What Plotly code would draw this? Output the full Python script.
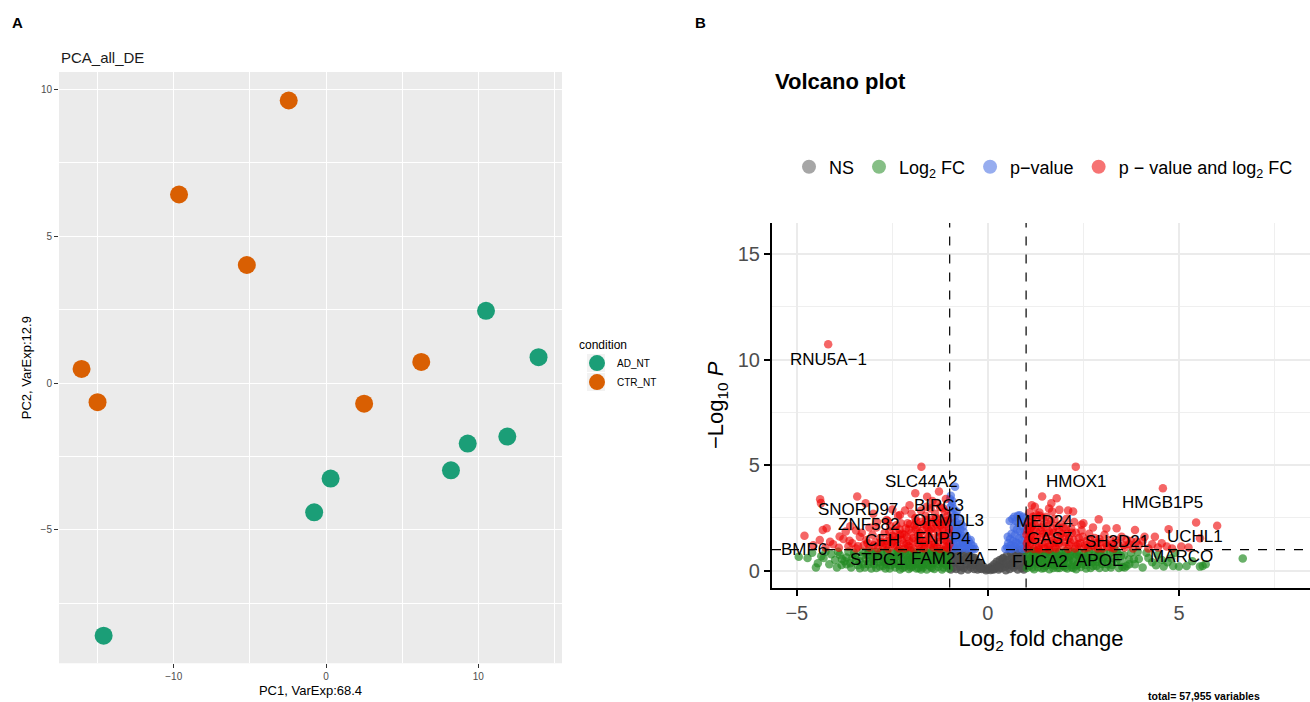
import plotly.graph_objects as go

# ---------------- Panel A data (PCA) ----------------
pca_pc1_ad = [10.5, 13.95, 11.9, 9.3, 8.2, 0.3, -0.78, -14.6]
pca_pc2_ad = [2.46, 0.88, -1.82, -2.06, -2.97, -3.25, -4.4, -8.6]
pca_pc1_ctr = [-2.45, -9.65, -5.2, -16.05, -15.0, 2.5, 6.25]
pca_pc2_ctr = [9.62, 6.42, 4.02, 0.48, -0.65, -0.7, 0.72]

# ---------------- Panel B data (volcano) ----------------
# NS (grey)
ns_fc = [-0.98, -0.95, -0.96, -0.97, -0.9, -0.88, -0.9, -0.85, -0.82, -0.8, -0.83, -0.75, -0.74, -0.72, -0.7,
         -0.66, -0.65, -0.63, -0.58, -0.57, -0.55, -0.52, -0.48, -0.46, -0.44, -0.4, -0.38, -0.36, -0.32, -0.3,
         -0.27, -0.24, -0.22, -0.18, -0.16, -0.12, -0.08, -0.05, 0.0, 0.04, 0.07, 0.1, 0.13, 0.17, 0.2, 0.23,
         0.25, 0.28, 0.31, 0.33, 0.36, 0.4, 0.42, 0.45, 0.47, 0.5, 0.52, 0.55, 0.57, 0.6, 0.62, 0.65, 0.67, 0.7,
         0.72, 0.74, 0.76, 0.78, 0.8, 0.82, 0.84, 0.86, 0.88, 0.91, 0.93, 0.95, 0.97, 0.98, -0.93, -0.78, -0.61,
         -0.5, -0.42, -0.34, -0.2, 0.15, 0.29, 0.38, 0.49, 0.63, 0.69, 0.85, 0.94]
ns_p = [0.95, 0.6, 0.3, 0.05, 0.85, 0.45, 0.15, 0.98, 0.7, 0.35, 0.08, 0.9, 0.55, 0.2, 0.02,
        0.8, 0.45, 0.12, 0.88, 0.6, 0.3, 0.05, 0.7, 0.4, 0.15, 0.62, 0.35, 0.08, 0.5, 0.25,
        0.05, 0.38, 0.18, 0.3, 0.08, 0.2, 0.1, 0.02, 0.06, 0.12, 0.03, 0.2, 0.08, 0.3, 0.12, 0.42,
        0.22, 0.05, 0.5, 0.3, 0.12, 0.6, 0.38, 0.18, 0.02, 0.72, 0.5, 0.28, 0.08, 0.85, 0.6, 0.38, 0.15, 0.95,
        0.72, 0.48, 0.25, 0.05, 0.98, 0.82, 0.58, 0.35, 0.12, 0.9, 0.66, 0.42, 0.2, 0.96, 0.75, 0.5, 0.55,
        0.45, 0.28, 0.6, 0.1, 0.05, 0.15, 0.55, 0.35, 0.25, 0.5, 0.75, 0.05]

# Log2 FC only (green)
fc_fc = [-4.95, -4.72, -4.6, -4.36, -4.45, -4.1, -3.83, -3.35, -4.0, -3.95, -4.25, -3.7, -3.6, -3.5, -3.45, -3.25,
         -3.15, -3.05,
         -1.02, -1.05, -1.03, -1.1, -1.12, -1.15, -1.2, -1.22, -1.25, -1.3, -1.32, -1.35, -1.4, -1.43, -1.46, -1.5,
         -1.53, -1.56, -1.6, -1.63, -1.66, -1.7, -1.73, -1.76, -1.8, -1.83, -1.87, -1.9, -1.93, -1.97, -2.0, -2.03,
         -2.07, -2.1, -2.14, -2.18, -2.22, -2.26, -2.3, -2.34, -2.38, -2.42, -2.46, -2.5, -2.55, -2.6, -2.64, -2.68,
         -2.73, -2.78, -2.83, -2.88, -2.93, -2.98, -3.02, -3.08, -3.12, -3.2, -3.3, -3.4, -3.55, -3.65, -3.75, -3.88,
         -1.08, -1.18, -1.28, -1.38, -1.48, -1.58, -1.68, -1.78, -1.88, -1.98, -2.08, -2.2, -2.32, -2.44, -2.56, -2.7,
         -2.85, -2.95, -1.15, -1.45, -1.75, -2.05, -2.35, -2.65,
         -1.06, -1.11, -1.16, -1.21, -1.26, -1.31, -1.36, -1.41, -1.47, -1.51, -1.57, -1.62, -1.67, -1.72, -1.77,
         -1.82, -1.86, -1.92, -1.96, -2.02, -2.06, -2.12, -2.17, -2.23, -2.28, -2.33, -2.39, -2.45, -2.51, -2.57,
         -2.62, -2.67, -2.75, -2.8, -2.87, -2.92, -2.99, -3.05, -3.13, -3.22, -3.28, -3.36, -3.48, -3.58, -3.7,
         -3.82, -3.92, -4.15, -4.3, -4.5,
         6.67, 5.62, 5.55, 5.2, 5.0, 4.85, 4.6, 4.8, 5.35, 4.45, 4.3, 4.15, 4.05, 3.95, 3.85, 4.55, 5.7, 4.9, 3.75,
         1.02, 1.06, 1.03, 1.09, 1.13, 1.16, 1.21, 1.23, 1.26, 1.31, 1.33, 1.36, 1.41, 1.44, 1.47, 1.51, 1.54, 1.57,
         1.61, 1.64, 1.67, 1.71, 1.74, 1.77, 1.81, 1.84, 1.88, 1.91, 1.94, 1.98, 2.01, 2.04, 2.08, 2.11, 2.15, 2.19,
         2.23, 2.27, 2.31, 2.35, 2.39, 2.43, 2.47, 2.51, 2.56, 2.61, 2.65, 2.69, 2.74, 2.79, 2.84, 2.89, 2.94, 2.99,
         3.03, 3.08, 3.13, 3.19, 3.25, 3.31, 3.37, 3.43, 3.49, 3.56, 3.63, 3.69, 1.08, 1.19, 1.29, 1.39, 1.49, 1.59,
         1.69, 1.79, 1.89, 1.99, 2.09, 2.21, 2.33, 2.45, 2.57, 2.71, 2.86, 2.96, 3.16, 3.41, 3.52,
         1.06, 1.11, 1.16, 1.21, 1.26, 1.31, 1.36, 1.41, 1.47, 1.51, 1.57, 1.62, 1.67, 1.72, 1.77,
         1.82, 1.86, 1.92, 1.96, 2.02, 2.06, 2.12, 2.17, 2.23, 2.28, 2.33, 2.39, 2.45, 2.51, 2.57,
         2.62, 2.67, 2.75, 2.8, 2.87, 2.92, 2.99, 3.05, 3.13, 3.22, 3.28, 3.36, 3.48, 3.58, 3.7,
         3.82, 3.92, 4.2, 4.4, 4.7]
fc_p = [0.66, 0.6, 0.85, 0.68, 0.35, 0.78, 0.27, 0.11, 0.5, 0.15, 0.9, 0.62, 0.35, 0.85, 0.5, 0.3,
        0.75, 0.1,
        0.1, 0.45, 0.8, 0.25, 0.62, 0.95, 0.05, 0.4, 0.75, 0.18, 0.55, 0.9, 0.08, 0.35, 0.7, 0.2,
        0.5, 0.85, 0.05, 0.4, 0.72, 0.15, 0.55, 0.92, 0.3, 0.65, 0.1, 0.45, 0.8, 0.2, 0.58, 0.95,
        0.08, 0.38, 0.72, 0.18, 0.52, 0.88, 0.05, 0.35, 0.68, 0.15, 0.48, 0.82, 0.25, 0.6, 0.95, 0.1,
        0.42, 0.75, 0.2, 0.55, 0.9, 0.3, 0.65, 0.45, 0.92, 0.55, 0.7, 0.25, 0.6, 0.9, 0.45, 0.75,
        0.55, 0.85, 0.45, 0.62, 0.35, 0.6, 0.3, 0.5, 0.7, 0.4, 0.6, 0.3, 0.78, 0.6, 0.42, 0.6,
        0.4, 0.75, 0.35, 0.95, 0.05, 0.25, 0.95, 0.3,
        0.3, 0.72, 0.15, 0.58, 0.92, 0.33, 0.72, 0.5, 0.12, 0.8, 0.28, 0.88, 0.5, 0.25, 0.7,
        0.12, 0.88, 0.3, 0.65, 0.15, 0.78, 0.5, 0.9, 0.12, 0.65, 0.25, 0.88, 0.32, 0.62, 0.1,
        0.8, 0.45, 0.22, 0.9, 0.7, 0.12, 0.5, 0.85, 0.3, 0.15, 0.9, 0.45, 0.7, 0.15, 0.3,
        0.55, 0.9, 0.3, 0.6, 0.15,
        0.58, 0.22, 0.19, 0.22, 0.2, 0.22, 0.2, 0.59, 0.45, 0.75, 0.4, 0.85, 0.15, 0.55, 0.3, 0.5, 0.3, 0.85, 0.85,
        0.12, 0.47, 0.82, 0.22, 0.6, 0.93, 0.07, 0.42, 0.77, 0.16, 0.53, 0.88, 0.1, 0.33, 0.68, 0.22, 0.48, 0.87,
        0.06, 0.38, 0.74, 0.13, 0.57, 0.9, 0.28, 0.67, 0.12, 0.43, 0.78, 0.22, 0.56, 0.93, 0.1, 0.36, 0.7, 0.16,
        0.5, 0.86, 0.07, 0.33, 0.66, 0.17, 0.46, 0.8, 0.27, 0.58, 0.92, 0.12, 0.4, 0.73, 0.22, 0.53, 0.88, 0.32,
        0.63, 0.14, 0.43, 0.83, 0.27, 0.58, 0.93, 0.12, 0.38, 0.73, 0.22, 0.53, 0.57, 0.83, 0.47, 0.6, 0.37, 0.58,
        0.32, 0.52, 0.68, 0.42, 0.62, 0.28, 0.76, 0.62, 0.4, 0.58, 0.42, 0.73, 0.58, 0.78, 0.17,
        0.3, 0.72, 0.15, 0.58, 0.92, 0.33, 0.72, 0.5, 0.12, 0.8, 0.28, 0.88, 0.5, 0.25, 0.7,
        0.12, 0.88, 0.3, 0.65, 0.15, 0.78, 0.5, 0.9, 0.12, 0.65, 0.25, 0.88, 0.32, 0.62, 0.1,
        0.8, 0.45, 0.22, 0.9, 0.7, 0.12, 0.5, 0.85, 0.3, 0.15, 0.9, 0.45, 0.7, 0.15, 0.3,
        0.55, 0.9, 0.6, 0.25, 0.4]

# p-value only (blue)
pv_fc = [-0.86, -0.97, -0.93, -0.98, -0.9, -0.95, -0.86, -0.98, -0.92, -0.84, -0.78, -0.96, -0.88, -0.8, -0.72,
         -0.98, -0.9, -0.83, -0.75, -0.68, -0.62, -0.97, -0.9, -0.82, -0.74, -0.66, -0.58, -0.52, -0.95, -0.86,
         -0.78, -0.7, -0.62, -0.55, -0.47, -0.4, -0.34, -0.76, -0.82, -0.7, -0.64, -0.56, -0.5, -0.44, -0.94,
         -0.99, -0.85, -0.93, -0.69, -0.6, -0.38, -0.45, -0.65, -0.79,
         0.46, 0.5, 0.53, 0.55, 0.58, 0.6, 0.62, 0.63, 0.66, 0.68, 0.7, 0.71, 0.73, 0.74, 0.76, 0.78, 0.79, 0.8,
         0.81, 0.83, 0.84, 0.85, 0.87, 0.88, 0.9, 0.91, 0.92, 0.93, 0.95, 0.96, 0.97, 0.98, 0.99, 0.57, 0.64,
         0.52, 0.69, 0.61, 0.75]
pv_p = [3.98, 3.55, 3.3, 3.0, 2.95, 2.7, 2.6, 2.4, 2.25, 2.3, 2.15, 2.0, 1.9, 1.85, 1.95,
        1.7, 1.6, 1.55, 1.6, 1.65, 1.5, 1.35, 1.25, 1.3, 1.3, 1.3, 1.35, 1.2, 1.08, 1.05,
        1.1, 1.05, 1.1, 1.05, 1.08, 1.03, 1.02, 2.5, 2.8, 2.2, 1.85, 1.6, 1.4, 1.25, 3.15,
        3.4, 2.05, 1.45, 1.45, 1.2, 1.15, 1.45, 2.1, 1.75,
        1.02, 1.12, 1.3, 1.05, 1.5, 1.2, 1.75, 1.02, 1.4, 2.05, 1.15, 1.7, 2.35, 1.35, 1.95, 2.6, 1.05, 2.25,
        1.55, 2.62, 1.85, 1.2, 2.4, 1.45, 2.1, 1.02, 2.55, 1.7, 1.3, 2.3, 1.9, 1.1, 2.5, 2.35, 2.45,
        1.6, 2.55, 1.05, 1.3]

# p-value and log2 FC (red)
both_fc = [-4.18, -1.74, -4.39, -4.37, -3.42, -3.2, -1.9, -1.28, -1.59, -1.33, -2.17, -2.3, -2.65, -1.6, -1.17,
           -4.8, -4.32, -4.22, -3.88, -4.13, -4.57, -3.0, -2.9, -3.6, -3.3, -3.1, -2.5, -1.45, -1.1, -2.05,
           -1.05, -1.08, -1.03, -1.1, -1.06, -1.15, -1.2, -1.18, -1.22, -1.25, -1.3, -1.32, -1.35, -1.38, -1.42,
           -1.45, -1.48, -1.5, -1.55, -1.58, -1.6, -1.63, -1.67, -1.7, -1.72, -1.76, -1.8, -1.83, -1.86, -1.9,
           -1.94, -1.97, -2.0, -2.04, -2.08, -2.12, -2.15, -2.2, -2.24, -2.28, -2.32, -2.36, -2.4, -2.45, -2.5,
           -2.55, -2.6, -2.64, -2.7, -2.76, -2.82, -2.88, -2.95, -3.02, -3.1, -3.18, -3.25, -3.35, -3.45, -3.55,
           -3.65, -3.78, -3.9, -4.05, -4.25, -4.4, -3.72, -3.45, -2.92, -2.62, -2.35, -2.0, -1.75, -1.5, -1.25,
           -1.12, -1.27, -1.4, -1.53, -1.66, -1.79, -1.92, -2.06, -2.18, -2.3, -2.47, -2.58, -2.73, -1.01, -1.02,
           -1.04, -1.13,
           -1.09, -1.14, -1.19, -1.24, -1.29, -1.34, -1.39, -1.44, -1.49, -1.54, -1.59, -1.64, -1.69, -1.74,
           -1.78, -1.84, -1.89, -1.95, -2.02, -2.07, -2.13, -2.19, -2.25, -2.31, -2.38, -2.43, -2.52, -2.57,
           -2.66, -2.8, -2.98, -3.15, -3.4, -3.62, -1.11, -1.36, -1.61, -1.88, -2.1, -2.4,
           2.3, 4.58, 1.42, 1.8, 1.66, 1.15, 1.87, 2.1, 2.23, 2.9, 5.45, 6.0, 3.37, 3.85, 4.37, 4.73, 5.06, 5.55,
           4.1, 3.89, 3.63, 4.68, 2.45, 1.23, 1.6, 1.35,
           1.03, 1.05, 1.04, 1.07, 1.1, 1.12, 1.15, 1.18, 1.2, 1.23, 1.26, 1.3, 1.33, 1.37, 1.4, 1.44, 1.48, 1.5,
           1.54, 1.58, 1.62, 1.66, 1.7, 1.74, 1.78, 1.82, 1.86, 1.9, 1.95, 2.0, 2.04, 2.1, 2.15, 2.2, 2.26, 2.32,
           2.38, 2.45, 2.52, 2.58, 2.65, 2.72, 2.8, 2.88, 2.95, 3.05, 3.12, 3.2, 3.3, 3.4, 3.5, 3.58, 3.7, 3.8,
           3.95, 4.05, 4.2, 4.3, 4.45, 4.55, 4.82, 5.25, 1.09, 1.27, 1.52, 1.68, 2.05, 2.5, 2.75, 3.1, 1.02, 1.01,
           1.05, 1.16, 1.34, 1.45, 1.6, 1.73, 1.88, 2.12, 2.28, 2.42, 2.62, 2.85, 3.0, 3.25,
           1.08, 1.11, 1.14, 1.19, 1.22, 1.28, 1.32, 1.38, 1.42, 1.46, 1.52, 1.56, 1.6, 1.64, 1.69, 1.72, 1.76,
           1.8, 1.85, 1.92, 1.97, 2.02, 2.07, 2.13, 2.18, 2.24, 2.3, 2.36, 2.48, 2.55, 2.68, 2.78, 2.92, 3.08,
           3.22, 3.35, 3.55, 3.75, 1.13, 1.36]
both_p = [10.73, 4.92, 3.38, 3.2, 3.51, 3.19, 3.67, 3.75, 3.5, 3.2, 2.85, 2.64, 2.4, 3.03, 2.96,
          1.65, 1.93, 2.01, 1.62, 1.37, 1.2, 2.7, 2.3, 2.1, 1.8, 2.05, 2.9, 3.3, 3.4, 3.1,
          1.05, 1.4, 1.8, 2.2, 2.6, 1.2, 1.65, 2.0, 2.45, 1.02, 1.35, 1.85, 2.2, 2.7, 1.1,
          1.55, 2.0, 2.4, 1.25, 1.75, 2.15, 2.6, 1.05, 1.45, 1.9, 2.3, 1.2, 1.65, 2.05, 2.5,
          1.02, 1.4, 1.8, 2.2, 1.15, 1.6, 2.0, 1.3, 1.75, 2.25, 1.05, 1.5, 1.9, 1.2, 1.65,
          2.1, 1.02, 1.4, 1.8, 1.15, 1.55, 1.05, 1.35, 1.7, 1.1, 1.45, 1.2, 1.6, 1.05, 1.3,
          1.15, 1.5, 1.08, 1.25, 1.1, 1.45, 1.85, 1.9, 2.05, 2.35, 2.6, 2.7, 2.85, 2.95, 3.0,
          1.6, 2.25, 1.3, 1.9, 1.25, 1.55, 2.15, 1.4, 1.05, 1.7, 1.38, 1.85, 1.3, 1.25, 2.0,
          2.4, 2.8,
          1.12, 1.48, 1.88, 2.15, 1.58, 1.12, 2.0, 2.3, 1.22, 1.62, 2.05, 1.38, 2.2, 1.08,
          1.78, 1.32, 1.95, 1.55, 1.1, 1.95, 1.25, 1.7, 1.45, 1.95, 1.15, 1.6, 1.28, 1.52,
          1.18, 1.35, 1.2, 1.3, 1.15, 1.42, 2.35, 2.5, 2.4, 2.35, 2.25, 2.15,
          4.93, 3.9, 3.51, 3.43, 3.19, 3.1, 2.88, 2.85, 2.8, 2.43, 2.28, 2.13, 2.01, 1.93, 1.61, 1.96, 1.14, 1.53,
          1.6, 1.38, 1.46, 1.14, 2.17, 3.03, 2.95, 2.75,
          1.05, 1.45, 1.9, 2.3, 1.2, 1.7, 2.1, 2.55, 1.02, 1.4, 1.85, 2.3, 1.15, 1.6, 2.05, 2.5, 1.05, 1.35,
          1.8, 2.2, 1.2, 1.6, 2.0, 2.45, 1.05, 1.4, 1.85, 2.2, 1.2, 1.6, 2.0, 1.02, 1.35, 1.8, 2.3, 1.15,
          1.55, 1.9, 1.05, 1.4, 1.75, 1.2, 1.55, 1.05, 1.35, 1.7, 1.15, 1.45, 1.05, 1.3, 1.6, 1.1, 1.25, 1.05,
          1.2, 1.4, 1.05, 1.25, 1.1, 1.3, 1.05, 1.1, 2.75, 2.65, 2.55, 2.8, 2.45, 2.25, 2.05, 2.0, 1.3, 1.7,
          2.1, 1.55, 1.0, 1.75, 1.0, 1.3, 1.6, 1.55, 1.05, 1.3, 1.1, 1.3, 1.05, 1.25,
          1.62, 2.0, 1.32, 1.9, 2.2, 1.55, 1.08, 1.9, 1.25, 2.15, 1.55, 1.12, 1.85, 2.35, 1.42, 1.8, 1.12,
          2.1, 1.28, 1.75, 2.05, 1.35, 1.75, 1.2, 2.0, 1.45, 1.8, 1.25, 1.6, 1.2, 1.45, 1.15, 1.5, 1.3,
          1.1, 1.45, 1.2, 1.4, 2.4, 2.6]

label_genes = ["RNU5A\u22121", "SLC44A2", "HMOX1", "HMGB1P5", "SNORD97", "BIRC3", "ZNF582", "ORMDL3", "MED24",
               "CFH", "ENPP4", "GAS7", "SH3D21", "UCHL1", "BMP6", "STPG1", "FAM214A", "FUCA2", "APOE", "MARCO"]
label_fc = [-4.18, -1.75, 2.30, 4.57, -3.41, -1.29, -3.12, -1.03, 1.47,
            -2.77, -1.17, 1.62, 3.37, 5.42, -4.81, -2.88, -1.02, 1.37, 2.92, 5.07]
label_p = [9.99, 4.22, 4.22, 3.22, 2.88, 3.11, 2.17, 2.40, 2.32,
           1.45, 1.53, 1.53, 1.37, 1.61, 1.01, 0.51, 0.59, 0.43, 0.48, 0.66]

legend_names = ["NS", "Log<sub>2</sub> FC", "p\u2212value", "p \u2212 value and log<sub>2</sub> FC"]
legend_colors = ["rgba(77,77,77,0.5)", "rgba(34,139,34,0.55)", "rgba(65,105,225,0.55)", "rgba(238,0,0,0.55)"]

W, H = 1310, 702
FONT = "Liberation Sans, Arial, Helvetica, sans-serif"

fig = go.Figure()

# ---- Panel A traces ----
fig.add_trace(go.Scatter(x=pca_pc1_ad, y=pca_pc2_ad, mode="markers", name="AD_NT",
                         marker=dict(size=18, color="#1B9E77"), xaxis="x", yaxis="y", legend="legend2"))
fig.add_trace(go.Scatter(x=pca_pc1_ctr, y=pca_pc2_ctr, mode="markers", name="CTR_NT",
                         marker=dict(size=18, color="#D95F02"), xaxis="x", yaxis="y", legend="legend2"))

# ---- Panel B traces ----
fig.add_trace(go.Scatter(x=ns_fc, y=ns_p, mode="markers", showlegend=False,
                         marker=dict(size=8.5, color="#4D4D4D", opacity=0.8), xaxis="x2", yaxis="y2"))
fig.add_trace(go.Scatter(x=fc_fc, y=fc_p, mode="markers", showlegend=False,
                         marker=dict(size=8.5, color="#228B22", opacity=0.68), xaxis="x2", yaxis="y2"))
fig.add_trace(go.Scatter(x=pv_fc, y=pv_p, mode="markers", showlegend=False,
                         marker=dict(size=8.5, color="#4169E1", opacity=0.68), xaxis="x2", yaxis="y2"))
fig.add_trace(go.Scatter(x=both_fc, y=both_p, mode="markers", showlegend=False,
                         marker=dict(size=8.5, color="#EE0000", opacity=0.6), xaxis="x2", yaxis="y2"))
for nm, col in zip(legend_names, legend_colors):
    fig.add_trace(go.Scatter(x=[None], y=[None], mode="markers", name=nm,
                             marker=dict(size=14, color=col), xaxis="x2", yaxis="y2", legend="legend"))

annotations = []
for g, fx, py in zip(label_genes, label_fc, label_p):
    annotations.append(dict(x=fx, y=py, xref="x2", yref="y2", text=g, showarrow=False,
                            font=dict(size=17, color="black", family=FONT)))

annotations += [
    dict(x=10 / W, y=1 - 22 / H, xref="paper", yref="paper", text="<b>A</b>", showarrow=False,
         xanchor="left", yanchor="middle", font=dict(size=15, color="black", family=FONT)),
    dict(x=693 / W, y=1 - 22 / H, xref="paper", yref="paper", text="<b>B</b>", showarrow=False,
         xanchor="left", yanchor="middle", font=dict(size=15, color="black", family=FONT)),
    dict(x=59 / W, y=1 - 58 / H, xref="paper", yref="paper", text="PCA_all_DE", showarrow=False,
         xanchor="left", yanchor="middle", font=dict(size=15, color="#1a1a1a", family=FONT)),
    dict(x=773 / W, y=1 - 81 / H, xref="paper", yref="paper", text="<b>Volcano plot</b>", showarrow=False,
         xanchor="left", yanchor="middle", font=dict(size=22, color="black", family=FONT)),
    dict(x=1204 / W, y=1 - 696 / H, xref="paper", yref="paper", text="<b>total= 57,955 variables</b>",
         showarrow=False, xanchor="center", yanchor="middle", font=dict(size=10.5, color="black", family=FONT)),
]

shapes = [
    dict(type="rect", xref="x domain", yref="y domain", x0=0, x1=1, y0=0, y1=1,
         fillcolor="#EBEBEB", line=dict(width=0), layer="below"),
    # legend key backgrounds (panel A)
    dict(type="rect", xref="paper", yref="paper", x0=587 / W, x1=605 / W, y0=1 - 372 / H, y1=1 - 354 / H,
         fillcolor="#F2F2F2", line=dict(width=0), layer="below"),
    dict(type="rect", xref="paper", yref="paper", x0=587 / W, x1=605 / W, y0=1 - 391 / H, y1=1 - 373 / H,
         fillcolor="#F2F2F2", line=dict(width=0), layer="below"),
    dict(type="line", xref="x2", yref="y2 domain", x0=-1, x1=-1, y0=0, y1=1,
         line=dict(color="black", width=1.2, dash="dash"), layer="above"),
    dict(type="line", xref="x2", yref="y2 domain", x0=1, x1=1, y0=0, y1=1,
         line=dict(color="black", width=1.2, dash="dash"), layer="above"),
    dict(type="line", xref="x2 domain", yref="y2", x0=0, x1=1, y0=1, y1=1,
         line=dict(color="black", width=1.2, dash="dash"), layer="above"),
]

tickA = dict(size=10, color="#4D4D4D", family=FONT)
tickB = dict(size=20, color="#4D4D4D", family=FONT)

fig.update_layout(
    width=W, height=H,
    margin=dict(l=0, r=0, t=0, b=0),
    paper_bgcolor="white", plot_bgcolor="rgba(0,0,0,0)",
    font=dict(family=FONT),
    annotations=annotations, shapes=shapes,
    xaxis=dict(domain=[59 / W, 562 / W], range=[-17.53, 15.49], anchor="y",
               tickmode="linear", tick0=0, dtick=10, showgrid=True, gridcolor="white", gridwidth=1.4,
               minor=dict(dtick=5, tick0=0, showgrid=True, gridcolor="white", gridwidth=0.6),
               zeroline=False, showline=False, ticks="outside", ticklen=4, tickcolor="#333333",
               tickfont=tickA, title=dict(text="PC1, VarExp:68.4", font=dict(size=13, color="black"), standoff=4)),
    yaxis=dict(domain=[1 - 663.3 / H, 1 - 72 / H], range=[-9.54, 10.59], anchor="x",
               tickmode="linear", tick0=0, dtick=5, showgrid=True, gridcolor="white", gridwidth=1.4,
               minor=dict(dtick=2.5, tick0=0, showgrid=True, gridcolor="white", gridwidth=0.6),
               zeroline=False, showline=False, ticks="outside", ticklen=4, tickcolor="#333333",
               tickfont=tickA, title=dict(text="PC2, VarExp:12.9", font=dict(size=13, color="black"), standoff=6)),
    xaxis2=dict(domain=[772 / W, 1.0], range=[-5.65, 8.43], anchor="y2",
                tickmode="linear", tick0=0, dtick=5, showgrid=True, gridcolor="#EBEBEB", gridwidth=1.6,
                minor=dict(dtick=2.5, tick0=0, showgrid=True, gridcolor="#EFEFEF", gridwidth=1.2),
                zeroline=False, showline=True, linecolor="black", linewidth=2.2,
                ticks="outside", ticklen=6, tickwidth=2, tickcolor="black", tickfont=tickB,
                title=dict(text="Log<sub>2</sub> fold change", font=dict(size=22, color="black"), standoff=8)),
    yaxis2=dict(domain=[1 - 587.5 / H, 1 - 223 / H], range=[-0.80, 16.48], anchor="x2",
                tickmode="linear", tick0=0, dtick=5, showgrid=True, gridcolor="#EBEBEB", gridwidth=1.6,
                minor=dict(dtick=2.5, tick0=0, showgrid=True, gridcolor="#EFEFEF", gridwidth=1.2),
                zeroline=False, showline=True, linecolor="black", linewidth=2.2,
                ticks="outside", ticklen=6, tickwidth=2, tickcolor="black", tickfont=tickB,
                title=dict(text="\u2212Log<sub>10</sub> <i>P</i>", font=dict(size=22, color="black"), standoff=8)),
    legend=dict(orientation="h", x=789 / W, y=1 - 167 / H, xanchor="left", yanchor="middle",
                font=dict(size=18, color="black", family=FONT), bgcolor="rgba(0,0,0,0)",
                traceorder="normal", itemsizing="trace"),
    legend2=dict(orientation="v", x=577 / W, y=1 - 333 / H, xanchor="left", yanchor="top",
                 title=dict(text="condition", font=dict(size=12, color="black", family=FONT)),
                 font=dict(size=10, color="black", family=FONT), bgcolor="rgba(0,0,0,0)",
                 traceorder="normal"),
)

fig.write_html("out.html")
